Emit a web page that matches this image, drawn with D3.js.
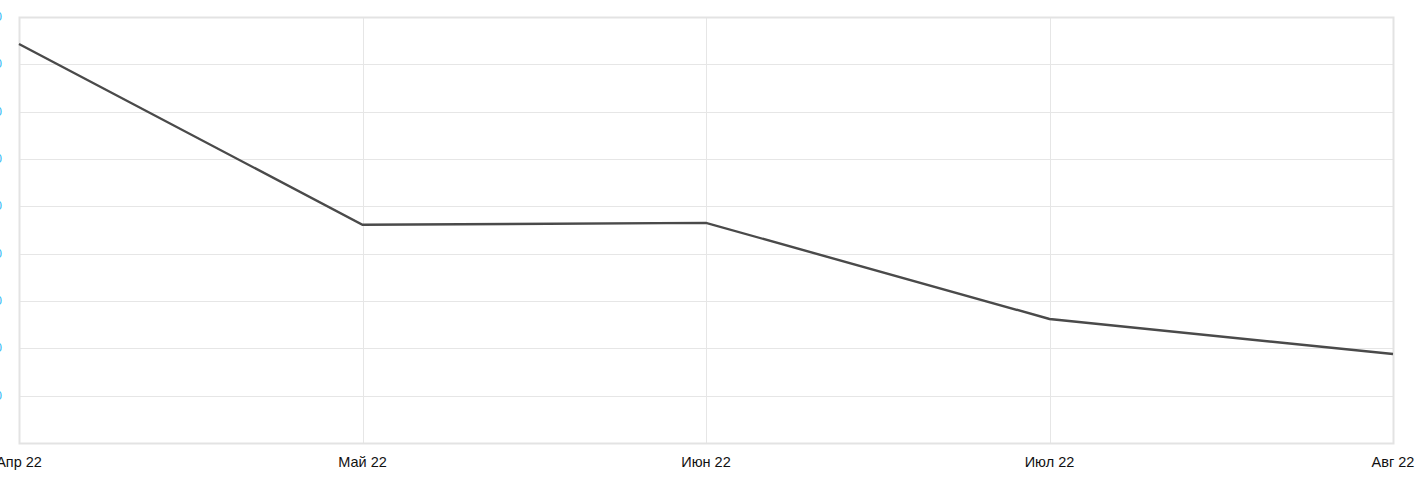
<!DOCTYPE html>
<html>
<head>
<meta charset="utf-8">
<script src="https://cdn.jsdelivr.net/npm/d3@7"></script>
<style>
	body { margin: 0; background: #fff; overflow: hidden; }
	svg { display: block; font-family: "Liberation Sans", Arial, sans-serif; }
</style>
</head>
<body>
<svg id="chart" width="1426" height="496"></svg>
<script>
const months = ["Апр 22", "Май 22", "Июн 22", "Июл 22", "Авг 22"];
const values = [843, 461, 465, 262, 188];
const yTicks = [0, 100, 200, 300, 400, 500, 600, 700, 800, 900];

const width = 1426;
const height = 496;
const margin = { top: 17, right: 33, bottom: 53, left: 19 };

const svg = d3.select("#chart");

const x = d3.scalePoint()
	.domain(months)
	.range([margin.left, width - margin.right]);

const y = d3.scaleLinear()
	.domain([0, 900])
	.range([height - margin.bottom, margin.top]);

// horizontal grid
svg.append("g")
	.selectAll("line")
	.data(yTicks)
	.join("line")
	.attr("x1", margin.left)
	.attr("x2", width - margin.right)
	.attr("y1", (d) => Math.round(y(d)) + 0.5)
	.attr("y2", (d) => Math.round(y(d)) + 0.5)
	.attr("stroke", "#e6e6e6")
	.attr("stroke-width", 1);

// vertical grid
svg.append("g")
	.selectAll("line")
	.data(months)
	.join("line")
	.attr("x1", (d) => Math.round(x(d)) + 0.5)
	.attr("x2", (d) => Math.round(x(d)) + 0.5)
	.attr("y1", margin.top)
	.attr("y2", height - margin.bottom)
	.attr("stroke", "#e6e6e6")
	.attr("stroke-width", 1);

// frame
svg.append("rect")
	.attr("x", margin.left + 0.5)
	.attr("y", margin.top + 0.5)
	.attr("width", width - margin.left - margin.right)
	.attr("height", height - margin.top - margin.bottom)
	.attr("fill", "none")
	.attr("stroke", "#e3e3e3")
	.attr("stroke-width", 2);

// y labels (mostly cut off by the left edge, as in the original)
svg.append("g")
	.selectAll("text")
	.data(yTicks.slice(1))
	.join("text")
	.attr("x", 2)
	.attr("y", (d) => y(d) + 4)
	.attr("text-anchor", "end")
	.attr("fill", "#29b6f6")
	.attr("font-size", 12)
	.text((d) => d);

// x labels
svg.append("g")
	.selectAll("text")
	.data(months)
	.join("text")
	.attr("x", (d) => x(d))
	.attr("y", height - margin.bottom + 24)
	.attr("text-anchor", "middle")
	.attr("fill", "#111")
	.attr("font-size", 14.5)
	.text((d) => d);

// line
const line = d3.line()
	.x((d, i) => x(months[i]))
	.y((d) => y(d));

svg.append("path")
	.datum(values)
	.attr("d", line)
	.attr("fill", "none")
	.attr("stroke", "#4a4a4a")
	.attr("stroke-width", 2.4);
</script>
</body>
</html>
